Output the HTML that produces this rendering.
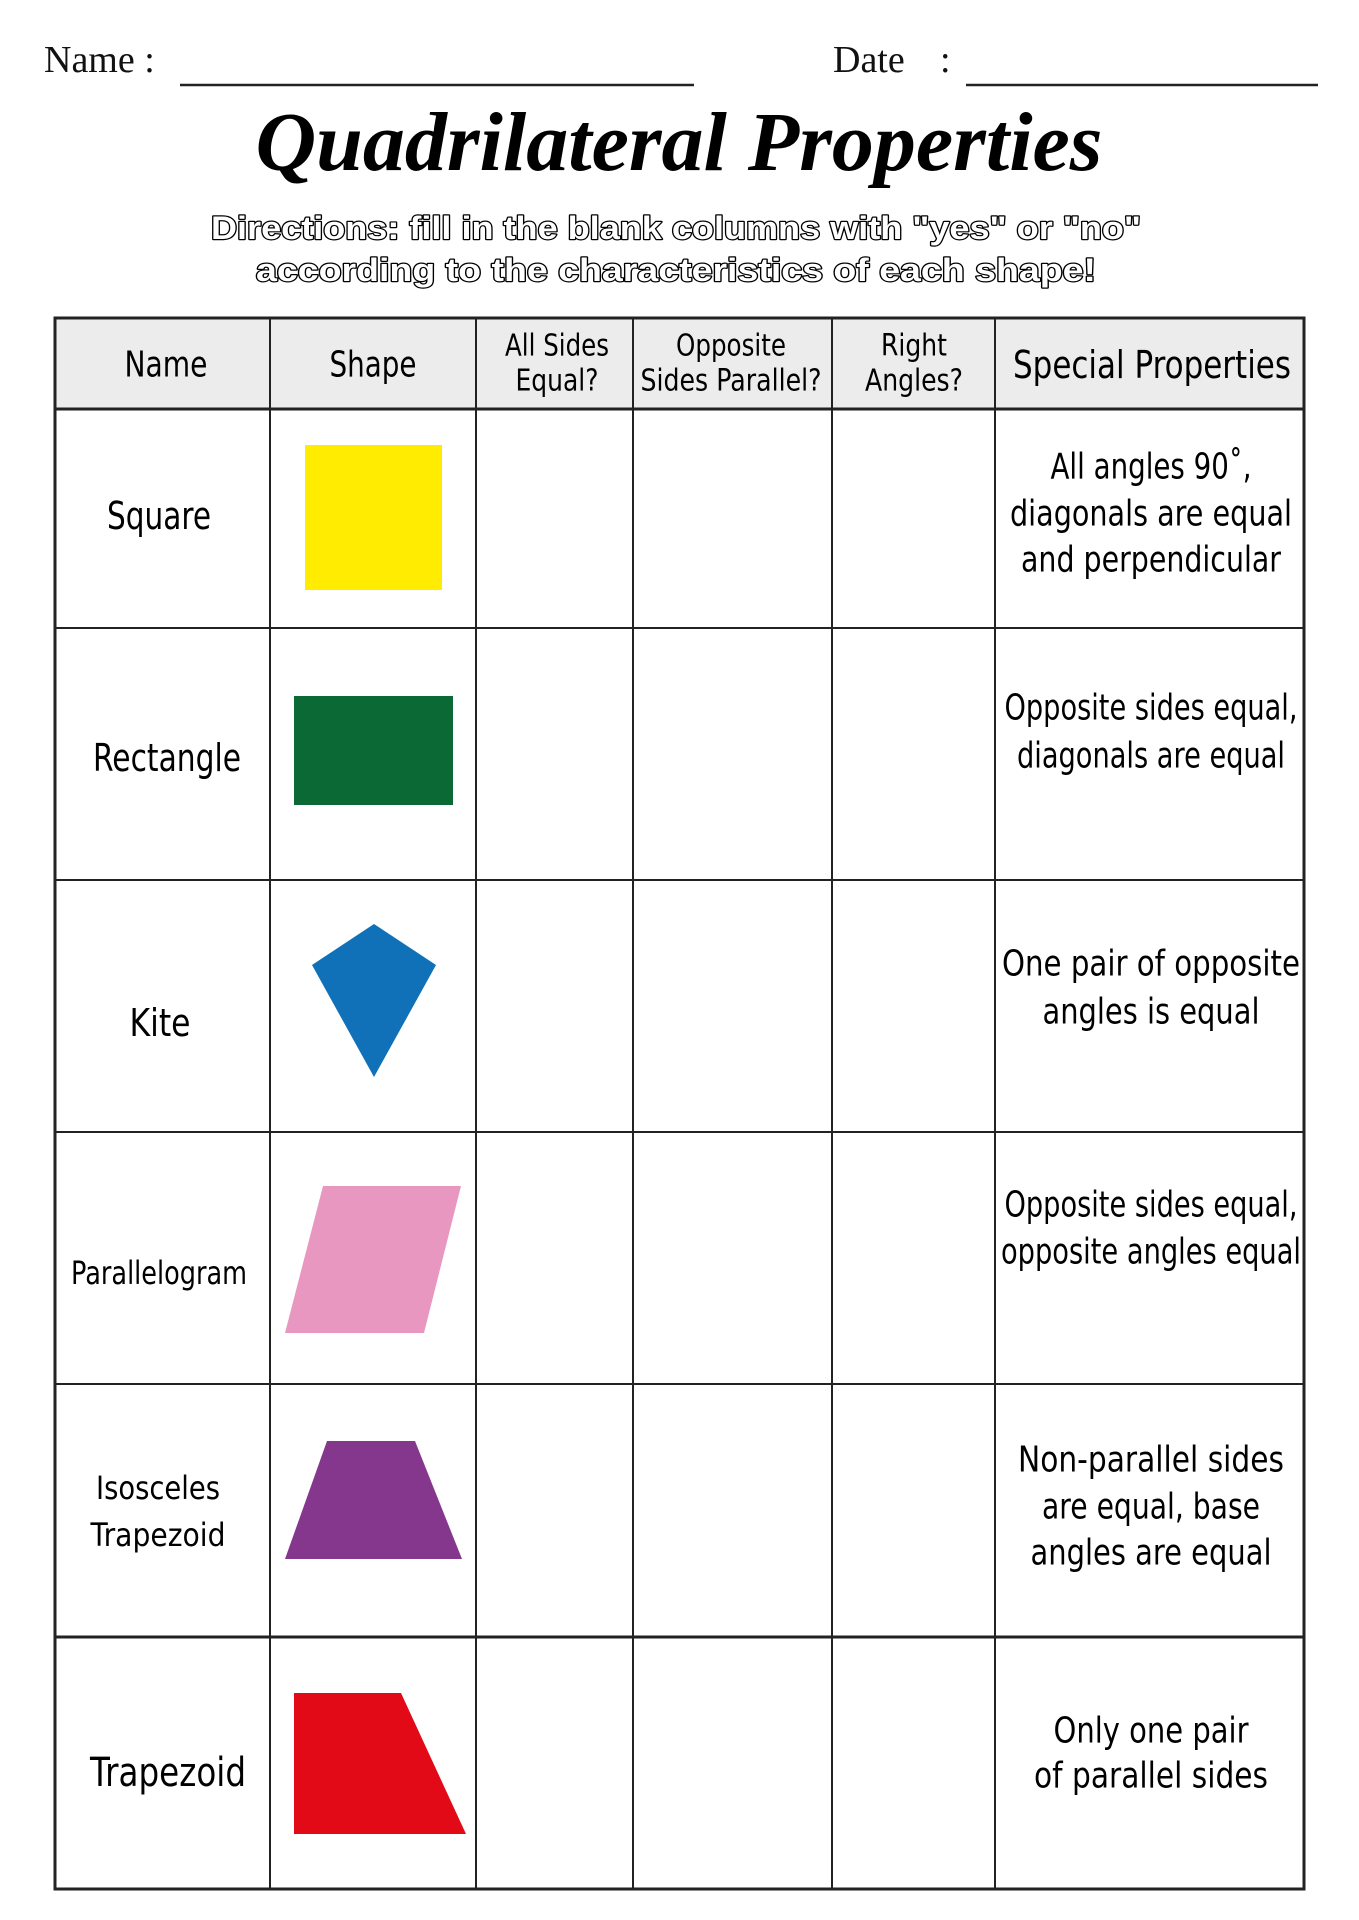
<!DOCTYPE html>
<html><head><meta charset="utf-8"><style>
html,body{margin:0;padding:0;background:#fff;}
svg{display:block;}
</style></head><body>
<svg width="1359" height="1920" viewBox="0 0 1359 1920" xmlns="http://www.w3.org/2000/svg">
<rect width="1359" height="1920" fill="#fff"/>
<g font-family="Liberation Serif, serif" font-size="38" fill="#111">
<text x="44" y="72">Name :</text>
<text x="833" y="72">Date</text>
<text x="940" y="72">:</text>
</g>
<line x1="180" y1="85" x2="694" y2="85" stroke="#222" stroke-width="2.5"/>
<line x1="966" y1="85" x2="1318" y2="85" stroke="#222" stroke-width="2.5"/>
<text x="679" y="170" text-anchor="middle" font-family="Liberation Serif, serif" font-weight="bold" font-style="italic" font-size="84" fill="#000">Quadrilateral Properties</text>
<g font-family="Liberation Sans, sans-serif" font-weight="bold" font-size="32" fill="#fff" stroke="#000" stroke-width="2.4" stroke-linejoin="round" text-anchor="middle" paint-order="stroke">
<text x="676" y="239" textLength="930" lengthAdjust="spacingAndGlyphs">Directions: fill in the blank columns with "yes" or "no"</text>
<text x="676" y="281" textLength="840" lengthAdjust="spacingAndGlyphs">according to the characteristics of each shape!</text>
</g>
<rect x="55" y="318" width="1249" height="91" fill="#ececec"/>
<g stroke="#222" stroke-width="2" fill="none">
<line x1="55" y1="409" x2="1304" y2="409" stroke-width="3"/>
<line x1="55" y1="628" x2="1304" y2="628"/>
<line x1="55" y1="880" x2="1304" y2="880"/>
<line x1="55" y1="1132" x2="1304" y2="1132"/>
<line x1="55" y1="1384" x2="1304" y2="1384"/>
<line x1="55" y1="1637" x2="1304" y2="1637" stroke-width="3"/>
<line x1="270" y1="318" x2="270" y2="1889"/>
<line x1="476" y1="318" x2="476" y2="1889"/>
<line x1="633" y1="318" x2="633" y2="1889"/>
<line x1="832" y1="318" x2="832" y2="1889"/>
<line x1="995" y1="318" x2="995" y2="1889"/>
<rect x="55" y="318" width="1249" height="1571" stroke-width="3"/>
</g>
<g font-family="DejaVu Sans, Liberation Sans, sans-serif" fill="#000" text-anchor="middle" dominant-baseline="central" lengthAdjust="spacingAndGlyphs">
<text x="166" y="365" font-size="36" textLength="83" lengthAdjust="spacingAndGlyphs">Name</text>
<text x="373" y="365" font-size="36" textLength="87" lengthAdjust="spacingAndGlyphs">Shape</text>
<text x="557" y="346" font-size="30" textLength="104" lengthAdjust="spacingAndGlyphs">All Sides</text>
<text x="557" y="381" font-size="30" textLength="83" lengthAdjust="spacingAndGlyphs">Equal?</text>
<text x="731" y="346" font-size="30" textLength="110" lengthAdjust="spacingAndGlyphs">Opposite</text>
<text x="731" y="381" font-size="30" textLength="181" lengthAdjust="spacingAndGlyphs">Sides Parallel?</text>
<text x="914" y="346" font-size="30" textLength="66" lengthAdjust="spacingAndGlyphs">Right</text>
<text x="914" y="381" font-size="30" textLength="98" lengthAdjust="spacingAndGlyphs">Angles?</text>
<text x="1152" y="365" font-size="38" textLength="278" lengthAdjust="spacingAndGlyphs">Special Properties</text>

<text x="159" y="516" font-size="38" textLength="104" lengthAdjust="spacingAndGlyphs">Square</text>
<text x="167" y="758" font-size="38" textLength="148" lengthAdjust="spacingAndGlyphs">Rectangle</text>
<text x="160" y="1023" font-size="38" textLength="61" lengthAdjust="spacingAndGlyphs">Kite</text>
<text x="159" y="1273" font-size="32" textLength="176" lengthAdjust="spacingAndGlyphs">Parallelogram</text>
<text x="158" y="1488" font-size="32" textLength="124" lengthAdjust="spacingAndGlyphs">Isosceles</text>
<text x="158" y="1535" font-size="32" textLength="135" lengthAdjust="spacingAndGlyphs">Trapezoid</text>
<text x="168" y="1773" font-size="40" textLength="156" lengthAdjust="spacingAndGlyphs">Trapezoid</text>

<g font-size="36">
<text x="1151" y="467" textLength="201" lengthAdjust="spacingAndGlyphs">All angles 90˚,</text>
<text x="1151" y="514" textLength="282" lengthAdjust="spacingAndGlyphs">diagonals are equal</text>
<text x="1151" y="560" textLength="260" lengthAdjust="spacingAndGlyphs">and perpendicular</text>
<text x="1151" y="708" textLength="293" lengthAdjust="spacingAndGlyphs">Opposite sides equal,</text>
<text x="1151" y="756" textLength="268" lengthAdjust="spacingAndGlyphs">diagonals are equal</text>
<text x="1151" y="964" textLength="298" lengthAdjust="spacingAndGlyphs">One pair of opposite</text>
<text x="1151" y="1012" textLength="217" lengthAdjust="spacingAndGlyphs">angles is equal</text>
<text x="1151" y="1205" textLength="293" lengthAdjust="spacingAndGlyphs">Opposite sides equal,</text>
<text x="1151" y="1252" textLength="300" lengthAdjust="spacingAndGlyphs">opposite angles equal</text>
<text x="1151" y="1460" textLength="266" lengthAdjust="spacingAndGlyphs">Non-parallel sides</text>
<text x="1151" y="1507" textLength="218" lengthAdjust="spacingAndGlyphs">are equal, base</text>
<text x="1151" y="1553" textLength="241" lengthAdjust="spacingAndGlyphs">angles are equal</text>
<text x="1151" y="1731" textLength="195" lengthAdjust="spacingAndGlyphs">Only one pair</text>
<text x="1151" y="1776" textLength="234" lengthAdjust="spacingAndGlyphs">of parallel sides</text>
</g>
</g>
<rect x="305" y="445" width="137" height="145" fill="#ffec00"/>
<rect x="294" y="696" width="159" height="109" fill="#0a6934"/>
<polygon points="374,924 436,965 374,1077 312,965" fill="#1070b8"/>
<polygon points="323,1186 461,1186 424,1333 285,1333" fill="#e898c0"/>
<polygon points="327,1441 415,1441 462,1559 285,1559" fill="#84378d"/>
<polygon points="294,1693 401,1693 466,1834 294,1834" fill="#e30a17"/>
</svg>
</body></html>
